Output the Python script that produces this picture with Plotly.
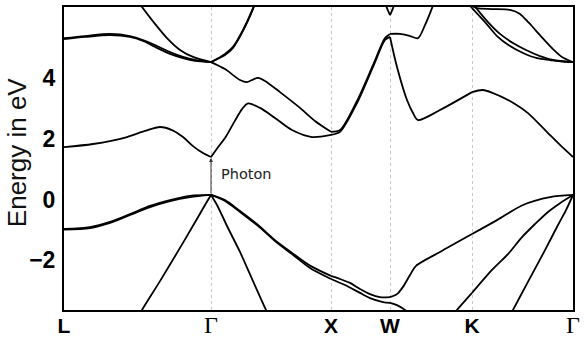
import plotly.graph_objects as go

# High-symmetry path (k in path units) and labels
sym_k = [0.0, 1.47, 2.67, 3.26, 4.08, 5.09]
sym_labels = ["L", "Γ", "X", "W", "K", "Γ"]
y_tickvals = [-2, 0, 2, 4]
y_ticktext = ["−2", "0", "2", "4"]

# ---- valence bands (eV) ----
vb1_k = [0, 0.26, 0.46, 0.66, 0.86, 1.06, 1.26, 1.47, 1.61, 1.76, 1.94, 2.11, 2.28, 2.46, 2.67,
         2.76, 2.86, 2.96, 3.06, 3.16, 3.26, 3.33, 3.39, 3.46, 3.52, 3.76, 4.08, 4.33, 4.59, 4.86, 5.09]
vb1_e = [-0.97, -0.91, -0.74, -0.48, -0.21, -0.02, 0.12, 0.15, -0.02, -0.38, -0.84, -1.34, -1.76, -2.18, -2.52,
         -2.62, -2.75, -2.95, -3.12, -3.22, -3.22, -3.12, -2.88, -2.49, -2.19, -1.73, -1.14, -0.68, -0.18, 0.08, 0.15]

vb2_k = [0, 0.26, 0.46, 0.66, 0.86, 1.06, 1.26, 1.47, 1.61, 1.76, 1.94, 2.11, 2.28, 2.46, 2.67,
         2.81, 2.96, 3.06, 3.19, 3.26, 3.33, 3.41, 3.48]
vb2_e = [-0.99, -0.94, -0.77, -0.51, -0.25, -0.05, 0.08, 0.15, -0.05, -0.41, -0.87, -1.37, -1.80, -2.26, -2.62,
         -2.82, -3.08, -3.25, -3.38, -3.41, -3.48, -3.64, -3.84]

vb3_k = [3.86, 3.93, 4.08, 4.28, 4.44, 4.58, 4.71, 4.84, 4.96, 5.09]
vb3_e = [-3.91, -3.64, -3.08, -2.32, -1.80, -1.24, -0.81, -0.41, -0.12, 0.15]

vb4_k = [4.41, 4.49, 4.65, 4.81, 4.94, 5.02, 5.09]
vb4_e = [-4.14, -3.64, -2.65, -1.67, -0.84, -0.35, 0.15]

lh_k = [0.71, 0.78, 0.96, 1.13, 1.30, 1.41, 1.47, 1.53, 1.64, 1.76, 1.89, 2.02, 2.07]
lh_e = [-4.04, -3.64, -2.69, -1.76, -0.81, -0.18, 0.15, -0.18, -0.94, -1.73, -2.69, -3.64, -3.97]

# ---- conduction bands (eV) ----
cb1_k = [0, 0.29, 0.63, 0.81, 0.96, 1.08, 1.19, 1.29, 1.39, 1.47, 1.54, 1.62, 1.71, 1.78, 1.84, 1.96, 2.11, 2.28,
         2.48, 2.67, 2.76, 2.93, 3.09, 3.21, 3.26, 3.33, 3.43, 3.49, 3.54, 3.76, 4.08, 4.19, 4.36, 4.51,
         4.64, 4.84, 4.96, 5.09]
cb1_e = [1.73, 1.83, 2.06, 2.26, 2.39, 2.29, 2.06, 1.76, 1.53, 1.40, 1.72, 2.08, 2.60, 2.98, 3.17, 3.02, 2.69, 2.29,
         2.06, 2.13, 2.23, 3.18, 4.37, 5.26, 5.36, 4.37, 3.28, 2.85, 2.62, 2.95, 3.54, 3.61, 3.41, 3.15,
         2.85, 2.19, 1.80, 1.40]

cb2_k = [0, 0.21, 0.46, 0.66, 0.79, 0.93, 1.06, 1.19, 1.31, 1.47, 1.61, 1.76, 1.83, 1.88, 1.94, 2.01, 2.16,
         2.36, 2.51, 2.67, 2.76, 2.93, 3.09, 3.21, 3.26, 3.36, 3.46, 3.54, 3.61, 3.68, 3.71]
cb2_e = [5.32, 5.39, 5.46, 5.39, 5.26, 5.06, 4.86, 4.70, 4.60, 4.53, 4.30, 3.94, 3.87, 3.94, 4.01, 3.91, 3.54,
         3.02, 2.59, 2.23, 2.29, 3.25, 4.43, 5.32, 5.46, 5.46, 5.39, 5.32, 5.75, 6.31, 6.58]

cb3_k = [0, 0.21, 0.46, 0.66, 0.79, 0.93, 1.06, 1.19, 1.31, 1.47, 1.61, 1.69, 1.79, 1.89, 1.92]
cb3_e = [5.29, 5.36, 5.42, 5.36, 5.23, 5.00, 4.80, 4.66, 4.57, 4.53, 4.80, 5.03, 5.59, 6.31, 6.58]

cb4_k = [0.73, 0.78, 0.91, 1.03, 1.16, 1.29, 1.47, 1.61, 1.69, 1.79, 1.89, 1.92]
cb4_e = [6.58, 6.35, 5.79, 5.32, 4.93, 4.70, 4.53, 4.76, 5.00, 5.56, 6.28, 6.54]

cb5_k = [4.02, 4.08, 4.21, 4.33, 4.46, 4.59, 4.73, 4.86, 4.98, 5.09]
cb5_e = [6.58, 6.31, 5.85, 5.39, 5.06, 4.83, 4.66, 4.60, 4.55, 4.53]

cb6_k = [4.06, 4.08, 4.24, 4.36, 4.49, 4.62, 4.76, 4.89, 5.09]
cb6_e = [6.58, 6.48, 5.85, 5.46, 5.16, 4.93, 4.73, 4.60, 4.53]

cb7_k = [3.96, 4.08, 4.13, 4.28, 4.46, 4.56, 4.65, 4.76, 4.89, 4.98, 5.09]
cb7_e = [6.58, 6.38, 6.31, 6.28, 6.25, 6.12, 5.82, 5.42, 4.96, 4.70, 4.53]

cb8_k = [3.20, 3.23, 3.26, 3.29, 3.32]
cb8_e = [6.58, 6.31, 6.08, 6.31, 6.58]

# Photon transition at Gamma
photon_k = 1.47
photon_from = 0.15
photon_to = 1.37

bands = [(vb1_k, vb1_e), (vb2_k, vb2_e), (vb3_k, vb3_e), (vb4_k, vb4_e), (lh_k, lh_e),
         (cb1_k, cb1_e), (cb2_k, cb2_e), (cb3_k, cb3_e), (cb4_k, cb4_e), (cb5_k, cb5_e),
         (cb6_k, cb6_e), (cb7_k, cb7_e), (cb8_k, cb8_e)]

fig = go.Figure()
for k, e in bands:
    for a, b in zip(sym_k[:-1], sym_k[1:]):
        idx = [i for i, kk in enumerate(k) if a - 1e-9 <= kk <= b + 1e-9]
        if len(idx) < 2:
            continue
        fig.add_trace(go.Scatter(
            x=[k[i] for i in idx], y=[e[i] for i in idx], mode="lines",
            line=dict(color="black", width=1.8, shape="spline", smoothing=0.8),
            hoverinfo="skip", showlegend=False))

gamma_html = '<span style="font-family:Liberation Serif, Times New Roman, serif; font-weight:normal; font-size:24px">Γ</span>'
ticktext = [gamma_html if t == "Γ" else t for t in sym_labels]

fig.update_layout(
    width=584, height=338,
    margin=dict(l=64, r=11, t=7, b=28, autoexpand=False),
    paper_bgcolor="white", plot_bgcolor="white",
    xaxis=dict(range=[sym_k[0], sym_k[-1]], tickvals=sym_k, ticktext=ticktext, automargin=False,
               showgrid=True, gridcolor="#c8c8c8", griddash="dot", gridwidth=1,
               showline=True, mirror=True, linecolor="black", linewidth=2,
               ticks="", ticklabelstandoff=-4, zeroline=False,
               tickfont=dict(family="Liberation Sans, Arial, sans-serif", size=21, color="black", weight="bold")),
    yaxis=dict(range=[-3.643, 6.347], tickvals=y_tickvals, ticktext=y_ticktext, automargin=False,
               showgrid=False, zeroline=False,
               showline=True, mirror=True, linecolor="black", linewidth=2,
               ticks="", ticklabelstandoff=2,
               tickfont=dict(family="Liberation Sans, Arial, sans-serif", size=23, color="black", weight="bold")),
    annotations=[
        dict(x=photon_k, y=photon_to, ax=photon_k, ay=photon_from, xref="x", yref="y",
             axref="x", ayref="y", showarrow=True, arrowhead=2, arrowsize=0.8, arrowwidth=1,
             arrowcolor="#333333", text=""),
        dict(x=1.55, y=0.84, xref="x", yref="y", text="Photon", showarrow=False, xanchor="left",
             yanchor="middle", font=dict(family="DejaVu Sans", size=14.5, color="#222222")),
        dict(x=-0.0923, y=0.521, xref="paper", yref="paper", text="Energy in eV", showarrow=False,
             textangle=-90, xanchor="center", yanchor="middle",
             font=dict(family="Liberation Sans, Arial, sans-serif", size=26, color="#111111")),
    ],
)

fig.write_html("out.html", config={"displayModeBar": False},
               post_script="document.body.style.margin='0px';")
